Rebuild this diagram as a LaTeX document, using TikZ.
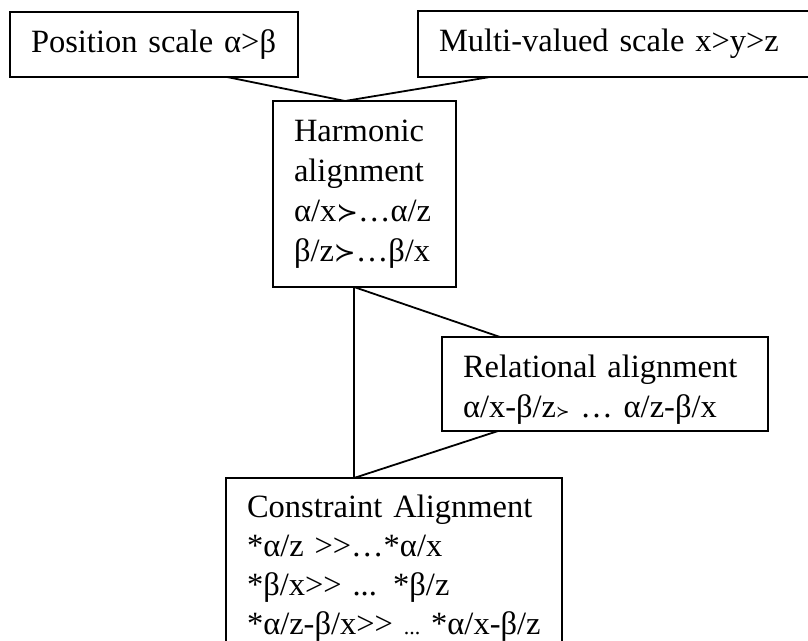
\documentclass[tikz,border=0pt]{standalone}
\usepackage{fontspec}
\setmainfont{Liberation Serif}
\newfontfamily\symfont{DejaVu Sans}
\newcommand{\sucsym}{{\symfont\fontsize{26}{26}\selectfont ≻}}
\newcommand{\gtgt}{>{}>}

\begin{document}
\begin{tikzpicture}[x=1pt, y=-1pt,
  box/.style={draw, line width=1.8pt, anchor=north west, outer sep=0pt,
    inner xsep=21pt, inner ysep=0pt, align=left,
    font=\fontsize{32.5}{40}\selectfont}]
  \useasboundingbox (0,0) rectangle (808,640);
  \clip (0,0) rectangle (808,640);

  \node[box, minimum width=288pt, minimum height=65pt, text width=246pt] (pos) at (10,12) {Position scale α>β};
  \node[box, minimum width=397pt, minimum height=66pt, text width=355pt] (mv) at (418,11) {Multi-valued scale x>y>z};
  \node[box, minimum width=183pt, minimum height=186pt, text width=141pt] (harm) at (273,101)
    {Harmonic\\ alignment\\ α/x\sucsym…α/z\\ β/z\sucsym…β/x};
  \node[box, minimum width=326pt, minimum height=94pt, text width=284pt] (rel) at (442,337)
    {\rule{0pt}{34pt}Relational alignment\\ α/x-β/z{\fontsize{16}{16}\selectfont\symfont ≻} … α/z-β/x};
  \node[box, minimum width=336pt, minimum height=180pt, text width=294pt,
    font=\fontsize{32.5}{39}\selectfont] (con) at (226,478)
    {Constraint Alignment\\ {}*α/z \gtgt…*α/x\\ {}*β/x\gtgt{} ... *β/z\\ {}*α/z-β/x\gtgt~{\fontsize{22}{22}\selectfont...}~*α/x-β/z};

  \path[line width=1.8pt]
  ([xshift=73pt]pos.south) edge ([xshift=-19.5pt]harm.north)
  ([xshift=-126.5pt]mv.south) edge ([xshift=-19.5pt]harm.north)
  ([xshift=-10.5pt]harm.south) edge ([xshift=-40pt]con.north)
  ([xshift=-10.5pt]harm.south) edge ([xshift=-105pt]rel.north)
  ([xshift=-107pt]rel.south) edge ([xshift=-40pt]con.north)
  ;
\end{tikzpicture}
\end{document}
